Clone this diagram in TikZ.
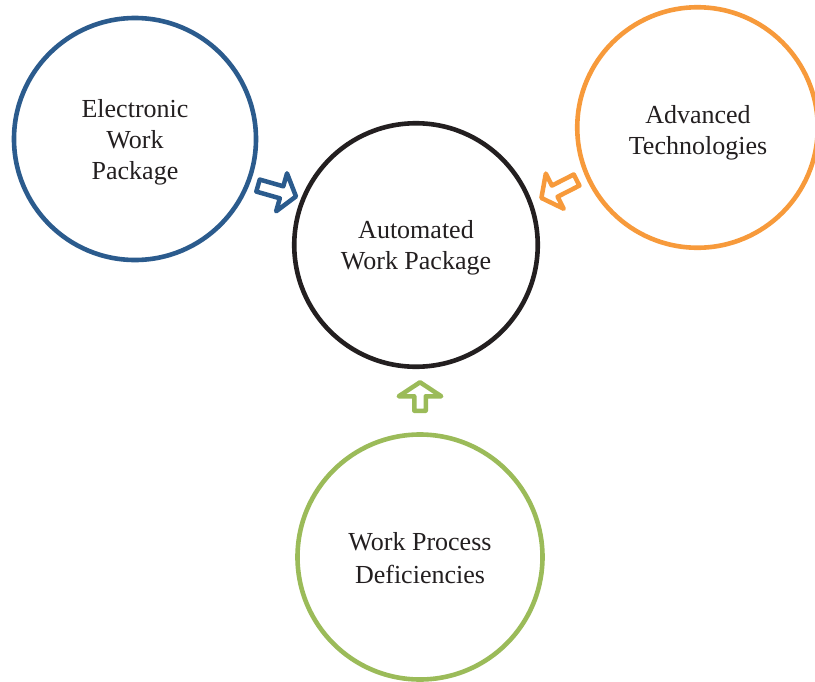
\documentclass[tikz,border=0pt]{standalone}
\usepackage{fontspec}
\setmainfont{Liberation Serif}
\definecolor{cblue}{HTML}{2B5B8D}
\definecolor{corange}{HTML}{F79A3B}
\definecolor{cgreen}{HTML}{9BBB59}
\definecolor{cblack}{HTML}{231F20}
\definecolor{ctext}{HTML}{231F20}
\newcommand\blockarr[7]{%
  \begin{scope}[shift={#1},rotate=#2]
    \draw[#7] ({-0.5*#3},{-0.5*#5}) -- ({0.5*#3-#6},{-0.5*#5}) -- ({0.5*#3-#6},{-0.5*#4})
      -- ({0.5*#3},0) -- ({0.5*#3-#6},{0.5*#4}) -- ({0.5*#3-#6},{0.5*#5})
      -- ({-0.5*#3},{0.5*#5}) -- cycle;
  \end{scope}}
\begin{document}
\begin{tikzpicture}[x=1pt,y=-1pt,
  bubble/.style={circle,line width=4.6pt,fill=white,inner sep=0pt},
  lbl/.style={text=ctext,align=center,inner sep=0pt,
    font=\fontsize{26}{31}\selectfont},
  arr/.style={line width=4.5pt,line join=round,fill=white}]
\useasboundingbox (0,0) rectangle (815,681);
\begin{scope}
\clip (0,0) rectangle (815,681);
\node[bubble,draw=cblue,minimum size=242pt] (ewp) at (135,139) {};
\node[bubble,draw=cblack,minimum size=243.5pt] (awp) at (416,245) {};
\node[bubble,draw=corange,minimum size=240.5pt] (adv) at (697.5,127.5) {};
\node[bubble,draw=cgreen,minimum size=245pt] (wpd) at (420,557) {};
\node[lbl] (ewpl) at (135,142) {Electronic\\Work\\Package};
\node[lbl] (awpl) at (416,248) {Automated\\Work Package};
\node[lbl] (advl) at (698,133) {Advanced\\Technologies};
\node[lbl,font=\fontsize{26}{33}\selectfont] (wpdl) at (420,558.5) {Work Process\\Deficiencies};
\blockarr{(277,191)}{-16}{39.5}{39.5}{12.5}{15}{arr,draw=cblue}
\blockarr{(559,189)}{207}{39.5}{39.5}{12.5}{15}{arr,draw=corange}
\blockarr{(420,396.5)}{90}{28.5}{42.5}{11.5}{14}{arr,draw=cgreen}
\end{scope}
\end{tikzpicture}
\end{document}
